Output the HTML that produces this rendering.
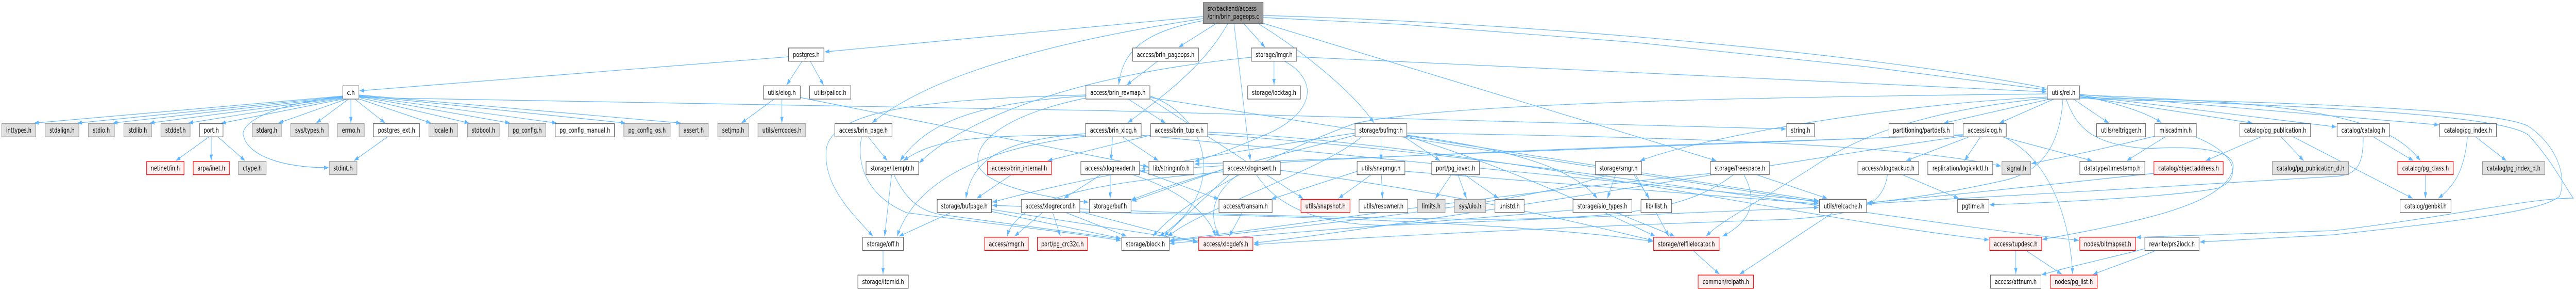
<!DOCTYPE html>
<html>
<head>
<meta charset="utf-8">
<style>
html,body{margin:0;padding:0;background:#fff;width:100%;height:100%;overflow:hidden;}
svg{display:block;position:absolute;left:0;top:0;width:100vw;height:100vh;}
.e{fill:none;stroke:#63b8ff;stroke-width:1.2;marker-end:url(#a);}
.w{fill:#fff;stroke:#666;stroke-width:1.33;}
.g{fill:#e0e0e0;stroke:#999;stroke-width:1.33;}
.r{fill:#fff0f0;stroke:#f00;stroke-width:1.33;}
.rt{fill:#999;stroke:#666;stroke-width:1.33;}
text{font-family:"DejaVu Sans","Liberation Sans",sans-serif;font-size:13px;fill:#000;text-anchor:middle;}
text.l{text-anchor:start;}
</style>
</head>
<body>
<svg viewBox="0 0 6622 564" preserveAspectRatio="none" xmlns="http://www.w3.org/2000/svg">
<defs>
<marker id="a" viewBox="0 0 10 7" refX="10" refY="3.5" markerWidth="12" markerHeight="8.4" markerUnits="userSpaceOnUse" orient="auto">
<path d="M0,0L10,3.5L0,7z" fill="#63b8ff"/>
</marker>
</defs>
<g>
<!-- root edges -->
<path class="e" d="M3093,32 L2120,100.5"/>
<path class="e" d="M3127,45.3 L3030,91.5"/>
<path class="e" d="M3093,40 C2950,60 2885,95 2876,164.5"/>
<path class="e" d="M3093,36 Q2450,110 2242,238"/>
<path class="e" d="M3157,45 C3100,120 3020,170 2899,238"/>
<path class="e" d="M3172,45 L3214,311.5"/>
<path class="e" d="M3196,45 L3252,91.5"/>
<path class="e" d="M3233,45 C3330,90 3470,170 3532,238"/>
<path class="e" d="M3247,45 L4412,311.5"/>
<path class="e" d="M3247,30 C4200,50 5400,150 5556,238"/>
<path class="e" d="M3247,34 L3600,47 L4200,82 L4800,129.5 L5261,174"/>
<!-- c.h -->
<path class="e" d="M883,186 L88,238.5"/>
<path class="e" d="M883,187 L199,238.5"/>
<path class="e" d="M884,188 L290,238.5"/>
<path class="e" d="M885,189 L385,238.5"/>
<path class="e" d="M886,190 L484,238.5"/>
<path class="e" d="M888,191 L568,239"/>
<path class="e" d="M891,192 L716,238.5"/>
<path class="e" d="M896,192 L813,238.5"/>
<path class="e" d="M902,192 L902,238.5"/>
<path class="e" d="M912,192 L990,238.5"/>
<path class="e" d="M920,191 L1108,238.5"/>
<path class="e" d="M922.6,189 L1206,238.5"/>
<path class="e" d="M922.6,187 L1311,238.5"/>
<path class="e" d="M922.6,186 L1431,238.5"/>
<path class="e" d="M922.6,185 L1608,238.5"/>
<path class="e" d="M922.6,184 L1750,238.5"/>
<path class="e" d="M881,188 C700,200 610,240 627,266 C640,300 720,325 845,325"/>
<path class="e" d="M922.6,189 C1800,195 3600,225 4591,250"/>
<!-- port.h, postgres_ext -->
<path class="e" d="M537,265.3 L452,311.5"/>
<path class="e" d="M543,265.3 L543,311.5"/>
<path class="e" d="M560,265.3 L630,311.5"/>
<path class="e" d="M996,265.3 L910,311.5"/>
<!-- postgres.h, elog -->
<path class="e" d="M2027,110 L924,176"/>
<path class="e" d="M2062,118.6 L2022,165"/>
<path class="e" d="M2083,118.6 L2117,165"/>
<path class="e" d="M1990,192 L1906,238.5"/>
<path class="e" d="M2010,192 L2010,238.5"/>
<path class="e" d="M2057,189 L2951,323"/>
<!-- brin_pageops / revmap -->
<path class="e" d="M2976,118.6 L2896,165"/>
<path class="e" d="M2900,192 L2996,238.5"/>
<path class="e" d="M2956,186 C3120,230 3150,380 2980,458"/>
<path class="e" d="M2791,190 C2600,220 2500,270 2515,320 C2530,360 2700,385 2798,392"/>
<path class="e" d="M2791,186 C2500,200 2380,240 2314,311.5"/>
<path class="e" d="M2791,184 C2400,192 2150,210 2125,285 C2110,360 2200,420 2244,458"/>
<path class="e" d="M2956,189 L4675,392"/>
<path class="e" d="M2956,191 L3350,385"/>
<!-- brin_page -->
<path class="e" d="M2232,265.3 L2281,311.5"/>
<path class="e" d="M2215,265.3 C2200,320 2230,380 2330,412 C2500,430 2700,445 2881,466"/>
<!-- itemptr / off -->
<path class="e" d="M2292,338.6 L2274,458"/>
<path class="e" d="M2298,338.6 C2330,390 2370,410 2420,416 L2881,463"/>
<path class="e" d="M2270,485.4 L2270,531.5"/>
<!-- brin_xlog -->
<path class="e" d="M2860,265.3 L2856,311.5"/>
<path class="e" d="M2886,265.3 L2978,311.5"/>
<path class="e" d="M2790,259 C2600,270 2500,300 2483,384.5"/>
<path class="e" d="M2790,262 C2500,262 2400,270 2322,311.5"/>
<path class="e" d="M2790,264 C2500,290 2350,360 2306,458"/>
<path class="e" d="M2933.5,262 L4676,390"/>
<!-- brin_tuple / internal -->
<path class="e" d="M2958,262 L2693,311.5"/>
<path class="e" d="M3104.5,256 C3800,280 4600,420 5113,465"/>
<path class="e" d="M3104.5,260 C3900,300 4800,420 5344,466"/>
<path class="e" d="M2600,338.6 L2511,384.5"/>
<!-- bufpage -->
<path class="e" d="M2549,406 L3079,468"/>
<path class="e" d="M2549,410 L2881,462"/>
<path class="e" d="M2444,412 L2311,458"/>
<!-- xlogreader / xlogrecord -->
<path class="e" d="M2830,338.6 L2735,384.5"/>
<path class="e" d="M2854,338.6 L2854,384.5"/>
<path class="e" d="M2911,338.6 C3000,360 3100,400 3125,458"/>
<path class="e" d="M2929,330 L3133,386"/>
<path class="e" d="M2680,412 L2608,458"/>
<path class="e" d="M2706,412 L2726,458"/>
<path class="e" d="M2740,412 L2896,458"/>
<path class="e" d="M2775.8,410 L3079,470"/>
<path class="e" d="M2775.8,411 C3500,420 4000,440 4249,468"/>
<!-- xloginsert -->
<path class="e" d="M3144,333 C2900,350 2620,370 2589,458"/>
<path class="e" d="M3182,338.6 C3110,380 3110,420 3134,458"/>
<path class="e" d="M3160,338.6 L2992,458"/>
<path class="e" d="M3144,328 L2909,390"/>
<path class="e" d="M3291,330 C3800,380 4100,440 4249,466"/>
<path class="e" d="M3230,338.6 C3300,420 3450,440 3600,436 L4675,402"/>
<path class="e" d="M3193,412 L3160,458"/>
<!-- snapmgr -->
<path class="e" d="M3489,332 L3268,386"/>
<path class="e" d="M3525,338.6 L3441,384.5"/>
<path class="e" d="M3551,338.6 L3554,384.5"/>
<path class="e" d="M3611.5,332 L4675,395"/>
<!-- bufmgr -->
<path class="e" d="M3550,265.3 L3550,311.5"/>
<path class="e" d="M3610,265.3 L3702,311.5"/>
<path class="e" d="M3616.5,262 C3900,290 4050,330 4106,384.5"/>
<path class="e" d="M3483,262 C3300,300 3100,330 2907,388"/>
<path class="e" d="M3483,258 C3200,290 2800,340 2551,392"/>
<path class="e" d="M3616.5,264 C3900,330 4150,420 4255,458"/>
<path class="e" d="M3616.5,263 L4675,389"/>
<path class="e" d="M3500,265.3 C3400,330 3100,400 3002,458"/>
<path class="e" d="M3616.5,258 C4300,265 4900,280 5144,322"/>
<!-- pg_iovec -->
<path class="e" d="M3731,338.6 L3690,384.5"/>
<path class="e" d="M3748,338.6 L3770,384.5"/>
<path class="e" d="M3765,338.6 L3852,384.5"/>
<!-- smgr / aio -->
<path class="e" d="M4153,338.6 L4132,384.5"/>
<path class="e" d="M4200,338.6 L4240,384.5"/>
<path class="e" d="M4136,338.6 C3900,400 3300,440 3007,468"/>
<path class="e" d="M4205,338.6 L4290,458"/>
<path class="e" d="M4044,407 C3700,430 3300,450 3007,472"/>
<path class="e" d="M4155,412 L4305,458"/>
<!-- freespace -->
<path class="e" d="M4456,338.6 C4350,400 4200,425 3800,425 C3200,420 2800,405 2551,398"/>
<path class="e" d="M4483,338.6 C4520,390 4500,430 4428,458"/>
<path class="e" d="M4515,338.6 L4697,384.5"/>
<path class="e" d="M4400,336 C3800,380 3300,440 3007,466"/>
<path class="e" d="M4352,485.4 L4420,531.5"/>
<path class="e" d="M4712,412 L4472,531.5"/>
<!-- lmgr -->
<path class="e" d="M3275,118.6 L3275,165"/>
<path class="e" d="M3302,118.6 C3400,160 3370,225 3250,262 Q3150,295 3071,313"/>
<path class="e" d="M3217,111 C2700,150 2450,250 2363,316"/>
<path class="e" d="M3333,110 L5261,178"/>
<!-- rel.h -->
<path class="e" d="M5270,192 L4997,238.5"/>
<path class="e" d="M5280,192 L5140,238.5"/>
<path class="e" d="M5303,192 C5295,290 5240,335 5150,350 C5000,375 4900,385 4800,394"/>
<path class="e" d="M5263,188 C4900,200 4400,260 4216,311.5"/>
<path class="e" d="M5263,190 C5000,210 4800,250 4660,324 C4500,400 4420,430 4386,458"/>
<path class="e" d="M5263,182 C4500,188 3700,200 3480,240 C3300,290 3050,380 2964,458"/>
<path class="e" d="M5330,192 L5421,238.5"/>
<path class="e" d="M5346,187 L5790,238.5"/>
<path class="e" d="M5346,185 L6006,246"/>
<path class="e" d="M5346,183 L6270,242"/>
<path class="e" d="M5346,184 C5900,200 6130,220 6222,311.5"/>
<path class="e" d="M5311,192 C5340,250 5380,280 5520,288 C5700,280 5770,300 5730,345 C5680,400 5500,430 5250,464"/>
<path class="e" d="M5346,189 C6000,200 6430,215 6500,245 C6570,280 6600,340 6580,380 C6540,410 6300,430 6000,455 L5655,469"/>
<path class="e" d="M5346,191 C6000,205 6440,225 6500,262 C6560,310 6600,370 6615,384 C6500,384 6300,420 6000,447 L5491,460"/>
<!-- miscadmin -->
<path class="e" d="M5539,264 C5400,290 5300,305 5222,317"/>
<path class="e" d="M5566,265.3 L5467,311.5"/>
<path class="e" d="M5643,265.3 C5760,300 5760,350 5700,365 C5600,380 5300,392 5114,397"/>
<!-- xlog -->
<path class="e" d="M5062,265.3 L4900,311.5"/>
<path class="e" d="M5091,265.3 L5050,311.5"/>
<path class="e" d="M5147,265.3 L5378,311.5"/>
<path class="e" d="M5150,265.3 C5250,300 5320,400 5328,531.5"/>
<path class="e" d="M5046,264 C4700,300 3600,440 3223,471"/>
<path class="e" d="M5046,262 C4500,275 3500,300 2931,332"/>
<path class="e" d="M5046,261 L3071,318"/>
<!-- xlogbackup -->
<path class="e" d="M4890,338.6 L5035,384.5"/>
<path class="e" d="M4852,338.6 C4840,400 4780,415 4600,425 C4000,440 3500,460 3223,474"/>
<!-- tupdesc / prs2lock -->
<path class="e" d="M5182,485.4 L5182,531.5"/>
<path class="e" d="M5208,485.4 L5300,531.5"/>
<path class="e" d="M5514,482 C5450,495 5300,520 5248,533"/>
<path class="e" d="M5542,485.4 C5480,505 5420,520 5380,532"/>
<!-- catalog -->
<path class="e" d="M5812,265.3 L5670,311.5"/>
<path class="e" d="M5864,265.3 L5922,311.5"/>
<path class="e" d="M5895,265.3 L6202,384.5"/>
<path class="e" d="M6101,265.3 L6204,311.5"/>
<path class="e" d="M6075,265.3 C6075,320 6060,340 6000,342 L5400,369 L4800,395"/>
<path class="e" d="M6235,338.6 L6235,384.5"/>
<path class="e" d="M6343,265.3 C6335,330 6310,360 6268,384.5"/>
<path class="e" d="M6364,265.3 L6443,311.5"/>
<path class="e" d="M5537,336 C5300,355 5000,380 4800,393"/>
</g>

<g>
<!-- root -->
<rect class="rt" x="3093" y="5" width="154" height="40.3"/>
<text class="l" x="3104" y="21">src/backend/access</text>
<text class="l" x="3104" y="36.3">/brin/brin_pageops.c</text>

<!-- row 1 -->
<rect class="w" x="2027" y="93" width="91" height="25.6"/><text x="2072.5" y="110.5">postgres.h</text>
<rect class="w" x="2911.7" y="93" width="169.3" height="25.6"/><text x="2996.4" y="110.5">access/brin_pageops.h</text>
<rect class="w" x="3217" y="93" width="116.3" height="25.6"/><text x="3275.2" y="110.5">storage/lmgr.h</text>

<!-- row 2 -->
<rect class="w" x="881.3" y="166.4" width="41.3" height="25.6"/><text x="902" y="183.9">c.h</text>
<rect class="w" x="1962.3" y="166.4" width="94.9" height="25.6"/><text x="2009.8" y="183.9">utils/elog.h</text>
<rect class="w" x="2081.3" y="166.4" width="105.7" height="25.6"/><text x="2134.2" y="183.9">utils/palloc.h</text>
<rect class="w" x="2791.5" y="166.4" width="164.5" height="25.6"/><text x="2873.8" y="183.9">access/brin_revmap.h</text>
<rect class="w" x="3207.4" y="166.4" width="135.6" height="25.6"/><text x="3275.2" y="183.9">storage/locktag.h</text>
<rect class="w" x="5263" y="166.4" width="83.1" height="25.6"/><text x="5304.6" y="183.9">utils/rel.h</text>

<!-- row 3 -->
<rect class="g" x="4.6" y="239.7" width="87.2" height="25.6"/><text x="48.2" y="257.2">inttypes.h</text>
<rect class="g" x="116" y="239.7" width="86.8" height="25.6"/><text x="159.4" y="257.2">stdalign.h</text>
<rect class="g" x="227" y="239.7" width="67" height="25.6"/><text x="260.5" y="257.2">stdio.h</text>
<rect class="g" x="318.4" y="239.7" width="71.2" height="25.6"/><text x="354" y="257.2">stdlib.h</text>
<rect class="g" x="413.7" y="239.7" width="75" height="25.6"/><text x="451.2" y="257.2">stddef.h</text>
<rect class="w" x="513" y="239.7" width="60.3" height="25.6"/><text x="543.2" y="257.2">port.h</text>
<rect class="g" x="648.2" y="239.7" width="75" height="25.6"/><text x="685.7" y="257.2">stdarg.h</text>
<rect class="g" x="747.3" y="239.7" width="96.5" height="25.6"/><text x="795.6" y="257.2">sys/types.h</text>
<rect class="g" x="867.9" y="239.7" width="68.5" height="25.6"/><text x="902.2" y="257.2">errno.h</text>
<rect class="w" x="959.7" y="239.7" width="119.1" height="25.6"/><text x="1019.3" y="257.2">postgres_ext.h</text>
<rect class="g" x="1102.5" y="239.7" width="73.8" height="25.6"/><text x="1139.4" y="257.2">locale.h</text>
<rect class="g" x="1202" y="239.7" width="81.4" height="25.6"/><text x="1242.7" y="257.2">stdbool.h</text>
<rect class="g" x="1307" y="239.7" width="96.2" height="25.6"/><text x="1355.1" y="257.2">pg_config.h</text>
<rect class="w" x="1427.3" y="239.7" width="152" height="25.6"/><text x="1503.3" y="257.2">pg_config_manual.h</text>
<rect class="g" x="1603.7" y="239.7" width="119.1" height="25.6"/><text x="1663.3" y="257.2">pg_config_os.h</text>
<rect class="g" x="1745.7" y="239.7" width="75" height="25.6"/><text x="1783.2" y="257.2">assert.h</text>
<rect class="g" x="1845.2" y="239.7" width="79.2" height="25.6"/><text x="1884.8" y="257.2">setjmp.h</text>
<rect class="g" x="1948.5" y="239.7" width="122.8" height="25.6"/><text x="2009.9" y="257.2">utils/errcodes.h</text>
<rect class="w" x="2146" y="239.7" width="147" height="25.6"/><text x="2219.5" y="257.2">access/brin_page.h</text>
<rect class="w" x="2790.4" y="239.7" width="143.1" height="25.6"/><text x="2862" y="257.2">access/brin_xlog.h</text>
<rect class="w" x="2958" y="239.7" width="146.5" height="25.6"/><text x="3031.3" y="257.2">access/brin_tuple.h</text>
<rect class="w" x="3483.4" y="239.7" width="133.1" height="25.6"/><text x="3550" y="257.2">storage/bufmgr.h</text>
<rect class="w" x="4593" y="239.7" width="71.2" height="25.6"/><text x="4628.6" y="257.2">string.h</text>
<rect class="w" x="4855.9" y="239.7" width="166.8" height="25.6"/><text x="4939.3" y="257.2">partitioning/partdefs.h</text>
<rect class="w" x="5046.5" y="239.7" width="110.9" height="25.6"/><text x="5102" y="257.2">access/xlog.h</text>
<rect class="w" x="5389.7" y="239.7" width="125.9" height="25.6"/><text x="5452.7" y="257.2">utils/reltrigger.h</text>
<rect class="w" x="5539.3" y="239.7" width="106.7" height="25.6"/><text x="5592.7" y="257.2">miscadmin.h</text>
<rect class="w" x="5757.8" y="239.7" width="181.8" height="25.6"/><text x="5848.7" y="257.2">catalog/pg_publication.h</text>
<rect class="w" x="6007.9" y="239.7" width="134.5" height="25.6"/><text x="6075.2" y="257.2">catalog/catalog.h</text>
<rect class="w" x="6271.7" y="239.7" width="145.6" height="25.6"/><text x="6344.5" y="257.2">catalog/pg_index.h</text>

<!-- row 4 -->
<rect class="r" x="377" y="313" width="96" height="25.6"/><text x="425" y="330.5">netinet/in.h</text>
<rect class="r" x="496.7" y="313" width="93" height="25.6"/><text x="543.2" y="330.5">arpa/inet.h</text>
<rect class="g" x="613" y="313" width="71.2" height="25.6"/><text x="648.6" y="330.5">ctype.h</text>
<rect class="g" x="846.5" y="313" width="71.1" height="25.6"/><text x="882" y="330.5">stdint.h</text>
<rect class="w" x="2226.3" y="313" width="135.1" height="25.6"/><text x="2293.9" y="330.5">storage/itemptr.h</text>
<rect class="r" x="2538.5" y="313" width="164.2" height="25.6"/><text x="2620.6" y="330.5">access/brin_internal.h</text>
<rect class="w" x="2778.5" y="313" width="150.8" height="25.6"/><text x="2853.9" y="330.5">access/xlogreader.h</text>
<rect class="w" x="2953.4" y="313" width="115.5" height="25.6"/><text x="3011.2" y="330.5">lib/stringinfo.h</text>
<rect class="w" x="3144.3" y="313" width="146.9" height="25.6"/><text x="3217.8" y="330.5">access/xloginsert.h</text>
<rect class="w" x="3488.7" y="313" width="122.8" height="25.6"/><text x="3550.1" y="330.5">utils/snapmgr.h</text>
<rect class="w" x="3680.4" y="313" width="122.8" height="25.6"/><text x="3741.8" y="330.5">port/pg_iovec.h</text>
<rect class="w" x="4101.3" y="313" width="118.6" height="25.6"/><text x="4160.6" y="330.5">storage/smgr.h</text>
<rect class="w" x="4397.1" y="313" width="151.2" height="25.6"/><text x="4472.7" y="330.5">storage/freespace.h</text>
<rect class="w" x="4776" y="313" width="156" height="25.6"/><text x="4854" y="330.5">access/xlogbackup.h</text>
<rect class="w" x="4955.8" y="313" width="166.8" height="25.6"/><text x="5039.2" y="330.5">replication/logicalctl.h</text>
<rect class="g" x="5146.3" y="313" width="73.9" height="25.6"/><text x="5183.3" y="330.5">signal.h</text>
<rect class="w" x="5346.5" y="313" width="167.2" height="25.6"/><text x="5430.1" y="330.5">datatype/timestamp.h</text>
<rect class="r" x="5537" y="313" width="178" height="25.6"/><text x="5626" y="330.5">catalog/objectaddress.h</text>
<rect class="g" x="5841.3" y="313" width="196" height="25.6"/><text x="5939.3" y="330.5">catalog/pg_publication_d.h</text>
<rect class="r" x="6163.8" y="313" width="142.8" height="25.6"/><text x="6235.2" y="330.5">catalog/pg_class.h</text>
<rect class="g" x="6381.6" y="313" width="160.2" height="25.6"/><text x="6461.7" y="330.5">catalog/pg_index_d.h</text>

<!-- row 5 -->
<rect class="w" x="2409.2" y="386.4" width="139.7" height="25.6"/><text x="2479" y="403.9">storage/bufpage.h</text>
<rect class="w" x="2625.4" y="386.4" width="150.4" height="25.6"/><text x="2700.6" y="403.9">access/xlogrecord.h</text>
<rect class="w" x="2800.3" y="386.4" width="107.2" height="25.6"/><text x="2853.9" y="403.9">storage/buf.h</text>
<rect class="w" x="3133.6" y="386.4" width="136.6" height="25.6"/><text x="3201.9" y="403.9">access/transam.h</text>
<rect class="r" x="3344.4" y="386.4" width="125.9" height="25.6"/><text x="3407.3" y="403.9">utils/snapshot.h</text>
<rect class="w" x="3493.7" y="386.4" width="125.4" height="25.6"/><text x="3556.4" y="403.9">utils/resowner.h</text>
<rect class="g" x="3643.6" y="386.4" width="71.2" height="25.6"/><text x="3679.2" y="403.9">limits.h</text>
<rect class="g" x="3738.9" y="386.4" width="80.4" height="25.6"/><text x="3779.1" y="403.9">sys/uio.h</text>
<rect class="w" x="3843" y="386.4" width="75" height="25.6"/><text x="3880.5" y="403.9">unistd.h</text>
<rect class="w" x="4043.6" y="386.4" width="151.5" height="25.6"/><text x="4119.3" y="403.9">storage/aio_types.h</text>
<rect class="w" x="4218.4" y="386.4" width="78.8" height="25.6"/><text x="4257.8" y="403.9">lib/ilist.h</text>
<rect class="w" x="4677.2" y="386.4" width="121" height="25.6"/><text x="4737.7" y="403.9">utils/relcache.h</text>
<rect class="w" x="5032.3" y="386.4" width="80.4" height="25.6"/><text x="5072.5" y="403.9">pgtime.h</text>
<rect class="w" x="6169.8" y="386.4" width="130.9" height="25.6"/><text x="6235.2" y="403.9">catalog/genbki.h</text>

<!-- row 6 -->
<rect class="w" x="2217.5" y="459.8" width="104.9" height="25.6"/><text x="2270" y="477.3">storage/off.h</text>
<rect class="r" x="2531.3" y="459.8" width="112.1" height="25.6"/><text x="2587.3" y="477.3">access/rmgr.h</text>
<rect class="r" x="2666.7" y="459.8" width="129" height="25.6"/><text x="2731.2" y="477.3">port/pg_crc32c.h</text>
<rect class="w" x="2883.4" y="459.8" width="122.3" height="25.6"/><text x="2944.5" y="477.3">storage/block.h</text>
<rect class="r" x="3081.5" y="459.8" width="139.3" height="25.6"/><text x="3151.1" y="477.3">access/xlogdefs.h</text>
<rect class="r" x="4250.9" y="459.8" width="168.4" height="25.6"/><text x="4335.1" y="477.3">storage/relfilelocator.h</text>
<rect class="r" x="5115" y="459.8" width="133.5" height="25.6"/><text x="5181.7" y="477.3">access/tupdesc.h</text>
<rect class="r" x="5346.5" y="459.8" width="143.1" height="25.6"/><text x="5418" y="477.3">nodes/bitmapset.h</text>
<rect class="w" x="5513.7" y="459.8" width="139.3" height="25.6"/><text x="5583.3" y="477.3">rewrite/prs2lock.h</text>

<!-- row 7 -->
<rect class="w" x="2205.3" y="533.1" width="129.7" height="25.6"/><text x="2270.1" y="550.6">storage/itemid.h</text>
<rect class="r" x="4365.3" y="533.1" width="142.4" height="25.6"/><text x="4436.5" y="550.6">common/relpath.h</text>
<rect class="w" x="5116.9" y="533.1" width="129.7" height="25.6"/><text x="5181.7" y="550.6">access/attnum.h</text>
<rect class="r" x="5270.7" y="533.1" width="120.6" height="25.6"/><text x="5331" y="550.6">nodes/pg_list.h</text>
</g>
</svg>
</body>
</html>
